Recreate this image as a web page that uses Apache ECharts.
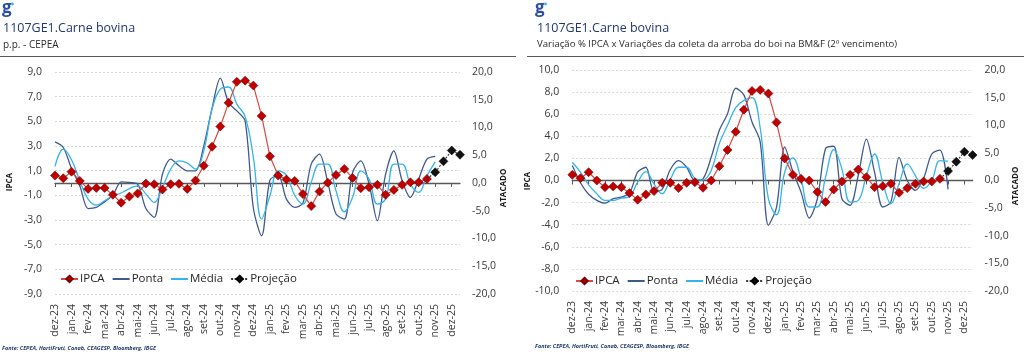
<!DOCTYPE html>
<html>
<head>
<meta charset="utf-8">
<script src="https://cdn.jsdelivr.net/npm/echarts@6/dist/echarts.min.js"></script>
<style>
html,body{margin:0;padding:0;background:#fff;}
#c{width:1024px;height:355px;}
</style>
</head>
<body>
<div id="c"></div>
<script>
// ---- DATA ----
const monthLabels = ['dez-23','jan-24','fev-24','mar-24','abr-24','mai-24','jun-24','jul-24','ago-24','set-24','out-24','nov-24','dez-24',
  'jan-25','fev-25','mar-25','abr-25','mai-25','jun-25','jul-25','ago-25','set-25','out-25','nov-25','dez-25'];
const seriesNames = ['IPCA','Ponta','Média','Projeção'];
const leftTicksPP = {min:-9, max:9, step:2};
const rightTicks = {min:-20, max:20, step:5};
const leftTicksBMF = {min:-10, max:10, step:2};

// Left chart (p.p. - CEPEA)
const ipcaPP = [0.6,0.39,0.92,0.17,-0.48,-0.40,-0.40,-0.96,-1.6,-1.1,-0.85,-0.05,-0.1,-0.53,-0.1,-0.07,-0.48,0.2,1.4,2.94,
  4.58,6.5,8.2,8.3,7.9,5.44,2.16,0.6,0.28,0.17,-0.9,-1.87,-0.69,0.03,0.65,1.14,0.41,-0.42,-0.34,-0.15,
  -0.96,-0.56,-0.15,0.06,0.06,0.33,null,null,null,null];
const projPP = [null,null,null,null,null,null,null,null,null,null,null,null,null,null,null,null,null,null,null,null,
  null,null,null,null,null,null,null,null,null,null,null,null,null,null,null,null,null,null,null,null,
  null,null,null,null,null,null,0.87,1.76,2.64,2.29];
const pontaPP = [7.4,6.4,2.6,-0.5,-4.6,-4.4,-3.4,-2.2,0.2,0.1,-0.2,-4.6,-6.2,1.6,4.3,3.1,2.2,2.2,6.7,13.5,
  18.9,14.5,13.0,11.2,-4.5,-9.5,0.5,1.4,-2.9,-4.4,-3.6,3.4,5.2,0.1,-5.6,-6.5,1.9,4.0,-0.2,-6.8,
  1.6,5.8,0.4,-2.6,0.7,4.3,4.8,null,null,null];
const mediaPP = [3.0,6.1,4.2,0.4,-2.9,-4.0,-3.2,-2.3,-1.8,-1.0,-0.5,-2.0,-3.5,-0.8,2.5,4.0,3.6,2.5,5.8,13.3,
  16.9,17.3,14.2,12.0,4.6,-6.5,-2.3,2.2,1.4,-2.2,-3.8,0.1,3.4,3.4,-1.4,-5.2,-2.6,2.2,0.7,-3.8,
  -2.9,3.4,3.4,-0.2,-1.7,1.3,3.8,null,null,null];

// Right chart (BM&F 2º vencimento)
const ipcaBMF = [0.51,0.21,0.75,0,-0.6,-0.54,-0.6,-1.14,-1.74,-1.26,-0.96,-0.21,-0.21,-0.69,-0.21,-0.15,-0.66,0,1.29,2.76,
  4.41,6.4,8.1,8.2,7.87,5.26,2.0,0.51,0.15,0,-1.05,-1.95,-0.81,-0.09,0.51,0.99,0.3,-0.6,-0.51,-0.3,
  -1.11,-0.69,-0.3,-0.09,-0.09,0.15,null,null,null,null];
const projBMF = [null,null,null,null,null,null,null,null,null,null,null,null,null,null,null,null,null,null,null,null,
  null,null,null,null,null,null,null,null,null,null,null,null,null,null,null,null,null,null,null,null,
  null,null,null,null,null,null,0.85,1.7,2.6,2.3];
const pontaBMF = [2.7,-0.4,-2.5,-3.6,-4.1,-3.3,-3.0,-2.3,1.5,2.4,-2.0,-1.6,2.0,3.6,2.4,0,0.3,4.2,9.1,12.1,
  16.7,15.5,10.6,7.0,-8.1,-4.8,6.1,1.6,-2.1,-6.8,-3.3,5.8,6.2,-3.3,-4.5,0.9,7.5,1.5,-4.8,-3.9,
  4.2,0,-1.8,0.4,4.8,5.5,-1.6,null,null,null];
const mediaBMF = [3.3,1.5,-0.8,-2.4,-3.6,-3.6,-3.2,-2.9,-0.3,1.6,-0.6,-2.4,0.2,2.4,2.4,0.4,0.1,1.8,6.7,10.0,
  13.2,14.5,15.0,9.5,-3.3,-6.2,1.5,4.1,0.3,-4.8,-4.8,0.6,5.6,2.1,-3.9,-3.6,0.9,4.8,-0.3,-4.2,
  -0.6,3.0,0.9,-1.4,0,3.6,3.5,null,null,null];

// ---- BUILD ----
// half-month categories: each month label followed by its second half
const cats = [];
monthLabels.forEach(m => { cats.push(m); cats.push(m + ' (2ª quinzena)'); });

const FONT = "'Open Sans', 'DejaVu Sans', sans-serif";
const fmt = v => v.toFixed(1).replace('.', ',');
const C_IPCA_LINE = '#E0463F', C_IPCA_PT = '#C00000', C_PONTA = '#3F5A8E', C_MEDIA = '#34B4EA', C_PROJ = '#111111';
const AX_TXT = '#3a3a3a';

function projData(ipca, proj) {
  return proj.map((v, i) => {
    if (v != null) return v;
    if (proj[i + 1] != null && ipca[i] != null) return { value: ipca[i], symbol: 'none' };
    return null;
  });
}

const grids = [
  { left: 55, top: 72, width: 405, height: 222 },
  { left: 572.3, top: 70, width: 400.3, height: 221 }
];

const xAxes = [], yAxes = [], series = [];
function addChart(g, lt, ipca, proj, ponta, media) {
  const xLab = xAxes.length;
  xAxes.push({
    type: 'category', gridIndex: g, data: cats, boundaryGap: false, position: 'bottom',
    axisLine: { show: false, onZero: false }, axisTick: { show: false }, splitLine: { show: false },
    axisLabel: { interval: 1, rotate: 90, margin: 10, fontSize: 10.5, color: AX_TXT, fontFamily: FONT }
  });
  xAxes.push({
    type: 'category', gridIndex: g, data: cats, boundaryGap: false, position: 'bottom',
    axisLine: { show: true, onZero: true, lineStyle: { color: '#595959', width: 1.3 } },
    axisTick: { show: true, interval: 1, length: 4, lineStyle: { color: '#595959', width: 1 } },
    axisLabel: { show: false }, splitLine: { show: false }
  });
  const yL = yAxes.length;
  yAxes.push({
    type: 'value', gridIndex: g, position: 'left', min: lt.min, max: lt.max, interval: lt.step,
    axisLine: { show: false }, axisTick: { show: false },
    axisLabel: { formatter: fmt, margin: 13, fontSize: 10.5, color: AX_TXT, fontFamily: FONT },
    splitLine: { show: true, lineStyle: { color: '#D9D9D9', type: [2, 2], width: 1 } }
  });
  yAxes.push({
    type: 'value', gridIndex: g, position: 'right', min: rightTicks.min, max: rightTicks.max, interval: rightTicks.step,
    axisLine: { show: false }, axisTick: { show: false },
    axisLabel: { formatter: fmt, margin: 12, fontSize: 10.5, color: AX_TXT, fontFamily: FONT },
    splitLine: { show: false }
  });
  series.push({
    name: seriesNames[1], type: 'line', xAxisIndex: xLab, yAxisIndex: yL + 1, data: ponta,
    symbol: 'none', smooth: 0.3, lineStyle: { color: C_PONTA, width: 1.3 }, itemStyle: { color: C_PONTA }, z: 2
  });
  series.push({
    name: seriesNames[2], type: 'line', xAxisIndex: xLab, yAxisIndex: yL + 1, data: media,
    symbol: 'none', smooth: 0.4, lineStyle: { color: C_MEDIA, width: 1.3 }, itemStyle: { color: C_MEDIA }, z: 3
  });
  series.push({
    name: seriesNames[0], type: 'line', xAxisIndex: xLab, yAxisIndex: yL, data: ipca,
    symbol: 'diamond', symbolSize: 9, showAllSymbol: true,
    lineStyle: { color: C_IPCA_LINE, width: 1.2 },
    itemStyle: { color: C_IPCA_PT, borderColor: '#7A0000', borderWidth: 0.6 }, z: 5
  });
  series.push({
    name: seriesNames[3], type: 'line', xAxisIndex: xLab, yAxisIndex: yL, data: projData(ipca, proj),
    symbol: 'diamond', symbolSize: 9, showAllSymbol: true,
    lineStyle: { color: '#333333', width: 1.1, type: [2, 1.5] },
    itemStyle: { color: C_PROJ, borderColor: '#000', borderWidth: 0.5 }, z: 6
  });
}
addChart(0, leftTicksPP, ipcaPP, projPP, pontaPP, mediaPP);
addChart(1, leftTicksBMF, ipcaBMF, projBMF, pontaBMF, mediaBMF);

function legendAt(left, top) {
  return {
    data: [
      { name: seriesNames[0] },
      { name: seriesNames[1], itemStyle: { opacity: 0 } },
      { name: seriesNames[2], itemStyle: { opacity: 0 } },
      { name: seriesNames[3] }
    ],
    left: left, top: top, orient: 'horizontal',
    itemWidth: 17, itemHeight: 8, itemGap: 7, padding: 0, selectedMode: false,
    textStyle: { fontSize: 11.5, color: '#262626', fontFamily: FONT, padding: [0, 0, 0, -3] }
  };
}

function txt(x, y, text, font, fill) {
  return { type: 'text', x: x, y: y, silent: true,
    style: { text: text, font: font, fill: fill, textVerticalAlign: 'middle' } };
}
function vtxt(x, y, text, font, fill) {
  return { type: 'text', x: x, y: y, rotation: Math.PI / 2, silent: true,
    style: { text: text, font: font, fill: fill, textAlign: 'center', textVerticalAlign: 'middle' } };
}
function logo(x, y) {
  return [
    { type: 'text', x: x, y: y, silent: true, style: { text: 'g', font: "bold 17px " + FONT, fill: '#2A4EA6', textVerticalAlign: 'top' } },
    { type: 'circle', shape: { cx: x + 10.5, cy: y + 4, r: 1.4 }, style: { fill: '#3FB6EA' }, silent: true }
  ];
}
const TITLE_FONT = "12.5px " + FONT, SUB_FONT = "10px " + FONT, SRC_FONT = "italic bold 5.5px " + FONT;
const graphic = [].concat(
  logo(2, 0),
  [
    txt(3, 28, '1107GE1.Carne bovina', TITLE_FONT, '#22386E'),
    txt(3, 45, 'p.p. - CEPEA', SUB_FONT, '#2b2b2b'),
    { type: 'line', shape: { x1: 0, y1: 56.5, x2: 516, y2: 56.5 }, style: { stroke: '#5a5a5a', lineWidth: 1.2 }, silent: true },
    vtxt(10, 182, 'IPCA', "bold 8px " + FONT, '#1a1a1a'),
    vtxt(504, 188, 'ATACADO', "bold 8px " + FONT, '#1a1a1a'),
    txt(2, 348, 'Fonte: CEPEA, HortiFruti, Conab, CEAGESP, Bloomberg, IBGE', SRC_FONT, '#1F3864')
  ],
  logo(535, 0),
  [
    txt(537, 28, '1107GE1.Carne bovina', TITLE_FONT, '#22386E'),
    txt(537, 44, 'Variação % IPCA x Variações da coleta da arroba do boi na BM&F (2º vencimento)', "9.6px " + FONT, '#2b2b2b'),
    { type: 'line', shape: { x1: 527, y1: 56.5, x2: 1024, y2: 56.5 }, style: { stroke: '#5a5a5a', lineWidth: 1.2 }, silent: true },
    vtxt(528, 181, 'IPCA', "bold 8px " + FONT, '#1a1a1a'),
    vtxt(1016, 186, 'ATACADO', "bold 8px " + FONT, '#1a1a1a'),
    txt(535, 346, 'Fonte: CEPEA, HortiFruti, Conab, CEAGESP, Bloomberg, IBGE', SRC_FONT, '#1F3864')
  ]
);

const chart = echarts.init(document.getElementById('c'), null, { renderer: 'canvas' });
chart.setOption({
  animation: false,
  backgroundColor: '#ffffff',
  textStyle: { fontFamily: FONT },
  grid: grids.map(g => Object.assign({ containLabel: false, outerBoundsMode: 'none' }, g)),
  xAxis: xAxes,
  yAxis: yAxes,
  legend: [legendAt(60, 273), legendAt(575, 275)],
  series: series,
  graphic: graphic
});
</script>
</body>
</html>
